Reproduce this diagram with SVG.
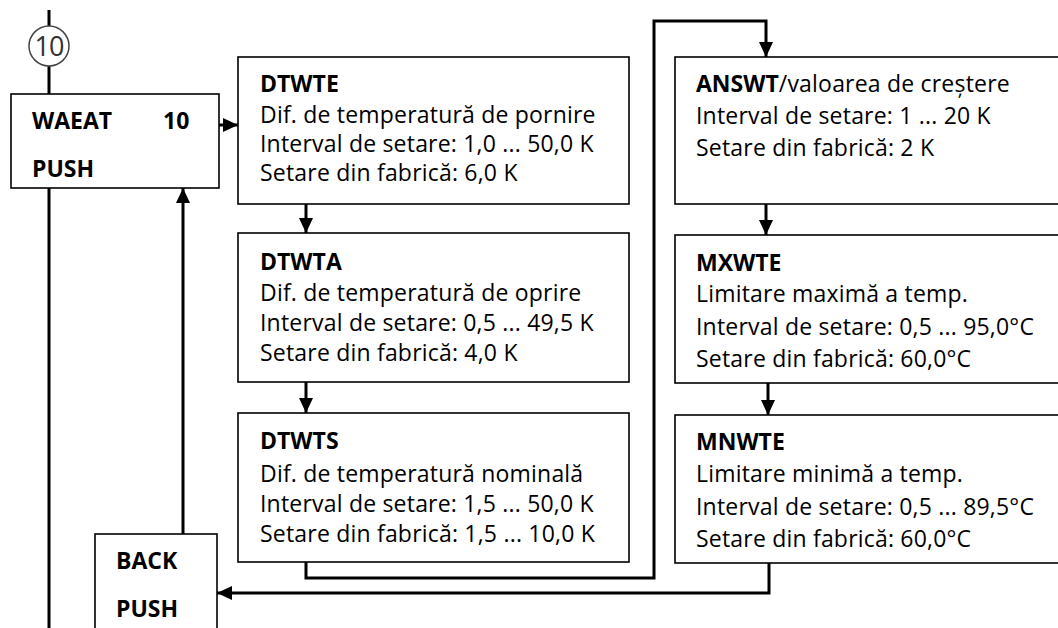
<svg xmlns="http://www.w3.org/2000/svg" width="1058" height="628" viewBox="0 0 1058 628">
<defs>
<marker id="ah" viewBox="0 0 15 14" refX="15" refY="7" markerWidth="15" markerHeight="14" markerUnits="userSpaceOnUse" orient="auto">
<path d="M0,0 L15,7 L0,14 z" fill="#000"/>
</marker>
<style>
.box{fill:#fff;stroke:#000;stroke-width:1.6}
.t{font-family:"Open Sans","Liberation Sans",sans-serif;font-size:23px;letter-spacing:0.2px;fill:#000}
.b{font-weight:bold;letter-spacing:0}
.c{fill:none;stroke:#000;stroke-width:3}
.a{marker-end:url(#ah)}
</style>
</defs>
<rect width="1058" height="628" fill="#fff"/>
<g id="connectors">
<path class="c" d="M49,10 V26 M49,66 V94 M49,188 V628"/>
<path class="c a" d="M219,125 H238"/>
<path class="c a" d="M306,204 V233"/>
<path class="c a" d="M306,382 V413"/>
<path class="c a" d="M306,562 V578 H654 V21 H766 V57"/>
<path class="c a" d="M766,204 V235"/>
<path class="c a" d="M768,383 V415"/>
<path class="c a" d="M769,562 V593 H217"/>
<path class="c a" d="M183,534 V188"/>
</g>
<g id="step10">
<circle cx="49" cy="46" r="20" fill="#fff" stroke="#444" stroke-width="1.5"/>
<text class="t" x="49" y="56" text-anchor="middle" style="font-size:27px;letter-spacing:-1px;fill:#333">10</text>
</g>
<g id="waeat">
<rect class="box" x="11" y="94" width="208" height="94"/>
<text class="t b" x="32" y="129">WAEAT</text>
<text class="t b" x="163" y="129">10</text>
<text class="t b" x="32" y="177">PUSH</text>
</g>
<g id="back">
<rect class="box" x="95" y="534" width="122" height="100"/>
<text class="t b" x="116" y="569">BACK</text>
<text class="t b" x="116" y="617">PUSH</text>
</g>
<g id="dtwte">
<rect class="box" x="238" y="57" width="391" height="147"/>
<text class="t b" x="260" y="92">DTWTE</text>
<text class="t" x="260" y="123">Dif. de temperatură de pornire</text>
<text class="t" x="260" y="152">Interval de setare: 1,0 ... 50,0 K</text>
<text class="t" x="260" y="181">Setare din fabrică: 6,0 K</text>
</g>
<g id="dtwta">
<rect class="box" x="238" y="233" width="391" height="149"/>
<text class="t b" x="260" y="270">DTWTA</text>
<text class="t" x="260" y="301">Dif. de temperatură de oprire</text>
<text class="t" x="260" y="331">Interval de setare: 0,5 ... 49,5 K</text>
<text class="t" x="260" y="361">Setare din fabrică: 4,0 K</text>
</g>
<g id="dtwts">
<rect class="box" x="238" y="413" width="391" height="149"/>
<text class="t b" x="260" y="449">DTWTS</text>
<text class="t" x="260" y="482">Dif. de temperatură nominală</text>
<text class="t" x="260" y="512">Interval de setare: 1,5 ... 50,0 K</text>
<text class="t" x="260" y="542">Setare din fabrică: 1,5 ... 10,0 K</text>
</g>
<g id="answt">
<rect class="box" x="675" y="57" width="400" height="147"/>
<text class="t" x="696" y="92"><tspan class="b">ANSWT</tspan>/valoarea de creștere</text>
<text class="t" x="696" y="124">Interval de setare: 1 ... 20 K</text>
<text class="t" x="696" y="156">Setare din fabrică: 2 K</text>
</g>
<g id="mxwte">
<rect class="box" x="675" y="235" width="400" height="148"/>
<text class="t b" x="696" y="271">MXWTE</text>
<text class="t" x="696" y="302">Limitare maximă a temp.</text>
<text class="t" x="696" y="335">Interval de setare: 0,5 ... 95,0°C</text>
<text class="t" x="696" y="367">Setare din fabrică: 60,0°C</text>
</g>
<g id="mnwte">
<rect class="box" x="675" y="415" width="400" height="148"/>
<text class="t b" x="696" y="450">MNWTE</text>
<text class="t" x="696" y="482">Limitare minimă a temp.</text>
<text class="t" x="696" y="515">Interval de setare: 0,5 ... 89,5°C</text>
<text class="t" x="696" y="547">Setare din fabrică: 60,0°C</text>
</g>
</svg>
